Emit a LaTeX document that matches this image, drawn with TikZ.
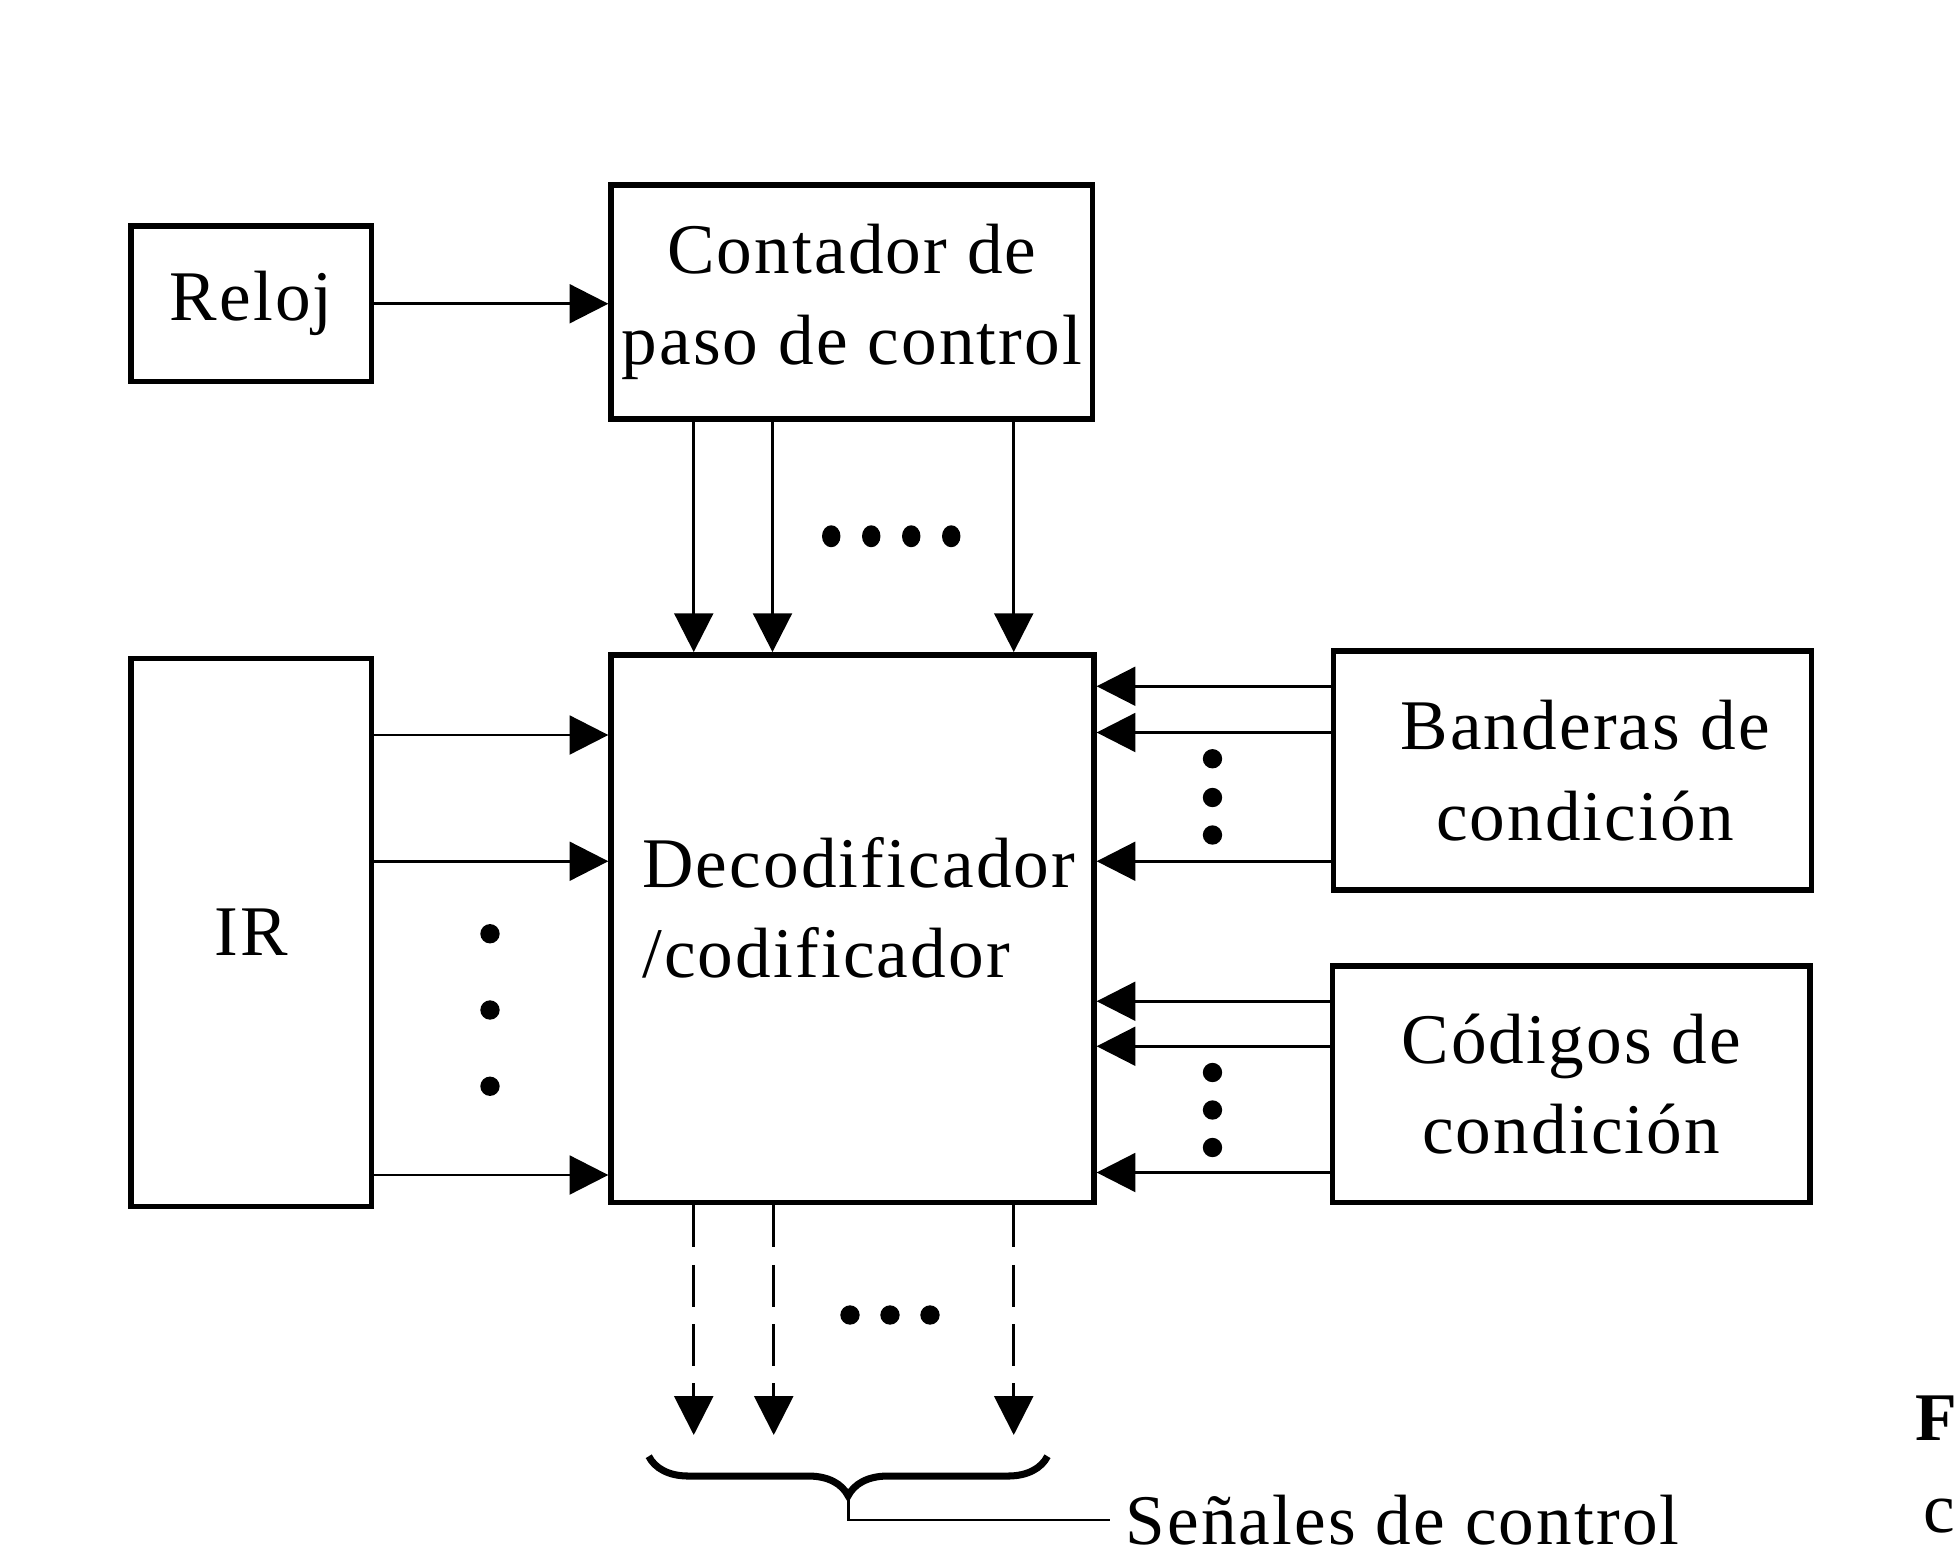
\documentclass[tikz,border=0pt]{standalone}
\usepackage{fontspec}
\setmainfont{Liberation Serif}[LetterSpace=3]
\usetikzlibrary{arrows.meta,decorations.pathreplacing}
\newcommand{\txt}{\fontsize{16.2}{20.5}\selectfont}
\tikzset{>={Triangle[length=3.1mm,width=3.1mm]}}
\tikzset{
  bloque/.style = {draw, line width=1.25pt, inner sep=0pt, align=center, font=\txt},
  senal/.style  = {->, line width=0.65pt},
  salida/.style = {->, line width=0.65pt, dash pattern=on 9.5pt off 4pt},
  llave/.style  = {decorate, decoration={brace,mirror,amplitude=9pt}, line width=1.6pt}
}

\begin{document}
\begin{tikzpicture}[x=0.01cm,y=-0.01cm]
  \useasboundingbox (0,0) rectangle (1568,1248);
  % blocks
  \node[bloque,minimum width=1.92cm,minimum height=1.24cm] (reloj) at (201,243) {Reloj};
  \node[bloque,minimum width=3.85cm,minimum height=1.87cm] (cont) at (681.5,241.5) {Contador de\\paso de control};
  \node[bloque,minimum width=1.92cm,minimum height=4.38cm] (ir) at (201,746) {IR};
  \node[bloque,minimum width=3.86cm,minimum height=4.38cm] (dec) at (682,743) {};
  \node[align=left,font=\txt] (dectxt) at (687,726) {Decodificador\\/codificador};
  \node[bloque,minimum width=3.82cm,minimum height=1.91cm] (band) at (1258,616.5) {\hspace*{0.2cm}Banderas de\\\hspace*{0.2cm}condición};
  \node[bloque,minimum width=3.82cm,minimum height=1.89cm] (cod) at (1257,867.5) {Códigos de\\condición};
  % clock
  \draw[senal] (reloj.east) -- (cont.west |- reloj.east);
  % step counter
  \draw[senal] (cont.south -| 555,0) -- (dec.north -| 555,0);
  \draw[senal] (cont.south -| 618,0) -- (dec.north -| 618,0);
  \draw[senal] (cont.south -| 811,0) -- (dec.north -| 811,0);
  \fill (665,429) ellipse[x radius=2.1pt,y radius=2.5pt];
  \fill (697,429) ellipse[x radius=2.1pt,y radius=2.5pt];
  \fill (729,429) ellipse[x radius=2.1pt,y radius=2.5pt];
  \fill (761,429) ellipse[x radius=2.1pt,y radius=2.5pt];
  % IR
  \draw[senal] (ir.east |- 0,588) -- (dec.west |- 0,588);
  \draw[senal] (ir.east |- 0,689) -- (dec.west |- 0,689);
  \draw[senal] (ir.east |- 0,940) -- (dec.west |- 0,940);
  \fill (392,747) circle (2.2pt);
  \fill (392,808) circle (2.2pt);
  \fill (392,869) circle (2.2pt);
  % flags
  \draw[senal] (band.west |- 0,549) -- (dec.east |- 0,549);
  \draw[senal] (band.west |- 0,586) -- (dec.east |- 0,586);
  \draw[senal] (band.west |- 0,689) -- (dec.east |- 0,689);
  \fill (970,607) circle (2.2pt);
  \fill (970,638) circle (2.2pt);
  \fill (970,668) circle (2.2pt);
  % condition codes
  \draw[senal] (cod.west |- 0,801) -- (dec.east |- 0,801);
  \draw[senal] (cod.west |- 0,837) -- (dec.east |- 0,837);
  \draw[senal] (cod.west |- 0,938) -- (dec.east |- 0,938);
  \fill (970,858) circle (2.2pt);
  \fill (970,888) circle (2.2pt);
  \fill (970,918) circle (2.2pt);
  % control signals
  \coordinate (fin) at (0,1148);
  \draw[salida] (dec.south -| 555,0) -- (fin -| 555,0);
  \draw[salida] (dec.south -| 619,0) -- (fin -| 619,0);
  \draw[salida] (dec.south -| 811,0) -- (fin -| 811,0);
  \fill (680,1052) circle (2.2pt);
  \fill (712,1052) circle (2.2pt);
  \fill (744,1052) circle (2.2pt);
  \draw[llave] (519,1165) -- (838,1165);
  \coordinate (punta) at (679,1198);
  \node[anchor=west,font=\txt] (sen) at (888,1216) {Señales de control};
  \draw[line width=0.65pt] (punta) |- (sen.west);
  % caption (cut off)
  \node[anchor=base east,inner sep=0pt,font=\fontsize{15.5}{19}\selectfont\bfseries] (fig) at (1566,1152) {F};
  \node[anchor=base west,inner sep=0pt,font=\txt] (figc) at (1538,1226) {c};
\end{tikzpicture}
\end{document}
